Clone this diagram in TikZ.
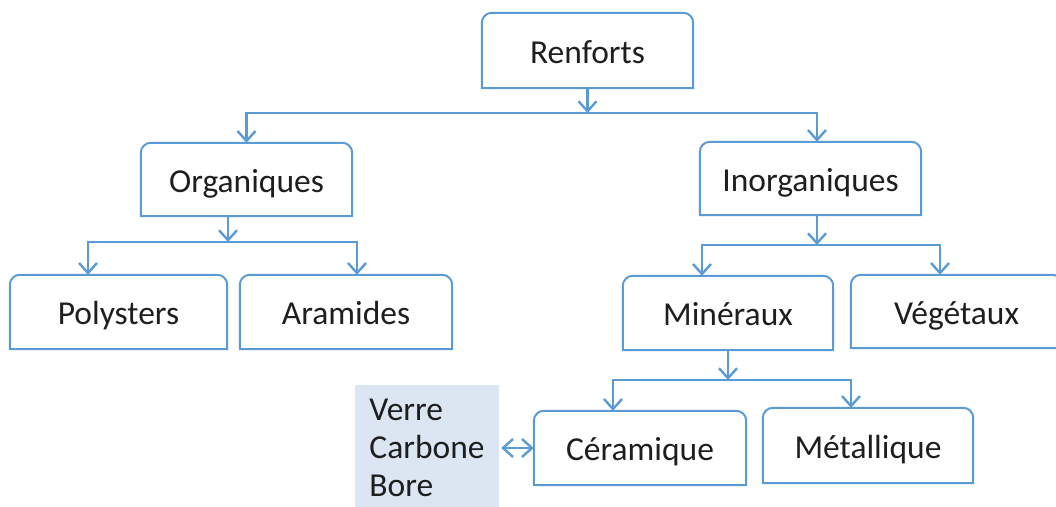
\documentclass[tikz,border=0pt]{standalone}
\usepackage{fontspec}
\setmainfont{Carlito}
\usetikzlibrary{arrows.meta}
\definecolor{lineblue}{HTML}{5B9BD5}
\definecolor{boxfill}{HTML}{DCE6F2}
\definecolor{txt}{HTML}{1E1E1E}
\begin{document}
\begin{tikzpicture}[x=1pt,y=-1pt,
  every node/.style={font=\fontsize{33.5}{38}\selectfont, text=txt},
  topbox/.style={inner sep=0pt, minimum width=#1, text height=28pt, text depth=3pt},
  frame/.style={draw=lineblue, line width=2pt},
  conn/.style={draw=lineblue, line width=2.8pt, -{Straight Barb[length=10pt,width=18pt,line width=2.4pt]}},
  dconn/.style={draw=lineblue, line width=2.8pt, {Straight Barb[length=10pt,width=18pt,line width=2.4pt]}-{Straight Barb[length=10pt,width=18pt,line width=2.4pt]}},
  plain/.style={draw=lineblue, line width=2.8pt}
]
\useasboundingbox (0,0) rectangle (1056,506);

% nodes
\node[topbox=211, minimum height=75] (ren) at (587.5,50.5) {Renforts};
\node[topbox=211, minimum height=73] (org) at (246.5,179.5) {Organiques};
\node[topbox=221, minimum height=73] (ino) at (810.5,178.5) {Inorganiques};
\node[topbox=217, minimum height=74] (pol) at (118.5,312) {Polysters};
\node[topbox=212, minimum height=74] (ara) at (346,312) {Aramides};
\node[topbox=210, minimum height=74] (min) at (728,313) {Minéraux};
\node[topbox=211, minimum height=73] (veg) at (956.5,311.5) {Végétaux};
\node[topbox=212, minimum height=74] (cer) at (640,448) {Céramique};
\node[topbox=210, minimum height=75] (met) at (868,445.5) {Métallique};
\node[fill=boxfill, inner sep=0pt, minimum width=144, minimum height=126, align=left] (vcb) at (427,448) {Verre\\Carbone\\Bore};

% frames with rounded top corners
\foreach \n in {ren,org,ino,pol,ara,min,veg,cer,met}{
  \draw[frame] (\n.south west) [rounded corners=10pt] -- (\n.north west) -- (\n.north east) [sharp corners] -- (\n.south east) -- cycle;
}

% junction points
\coordinate (j1) at (587.5,113);
\coordinate (j2) at (228,242);
\coordinate (j3) at (817,245);
\coordinate (j4) at (728,380);

% Renforts
\draw[conn] (ren.south) -- (j1);
\draw[conn] (j1) -| (org.north);
\draw[conn] (j1) -| ([xshift=6.5pt]ino.north);

% Organiques
\draw[conn] (j2 |- org.south) -- (j2);
\draw[conn] (j2) -| ([xshift=-30.5pt]pol.north);
\draw[conn] (j2) -| ([xshift=11pt]ara.north);

% Inorganiques
\draw[conn] (j3 |- ino.south) -- (j3);
\draw[conn] (j3) -| ([xshift=-26pt]min.north);
\draw[conn] (j3) -| ([xshift=-16.5pt]veg.north);

% Mineraux
\draw[conn] (j4 |- min.south) -- (j4);
\draw[conn] (j4) -| ([xshift=-27pt]cer.north);
\draw[conn] (j4) -| ([xshift=-17pt]met.north);

% double arrow
\draw[dconn, shorten <=2pt] (vcb.east |- cer.west) -- (cer.west);
\end{tikzpicture}
\end{document}
